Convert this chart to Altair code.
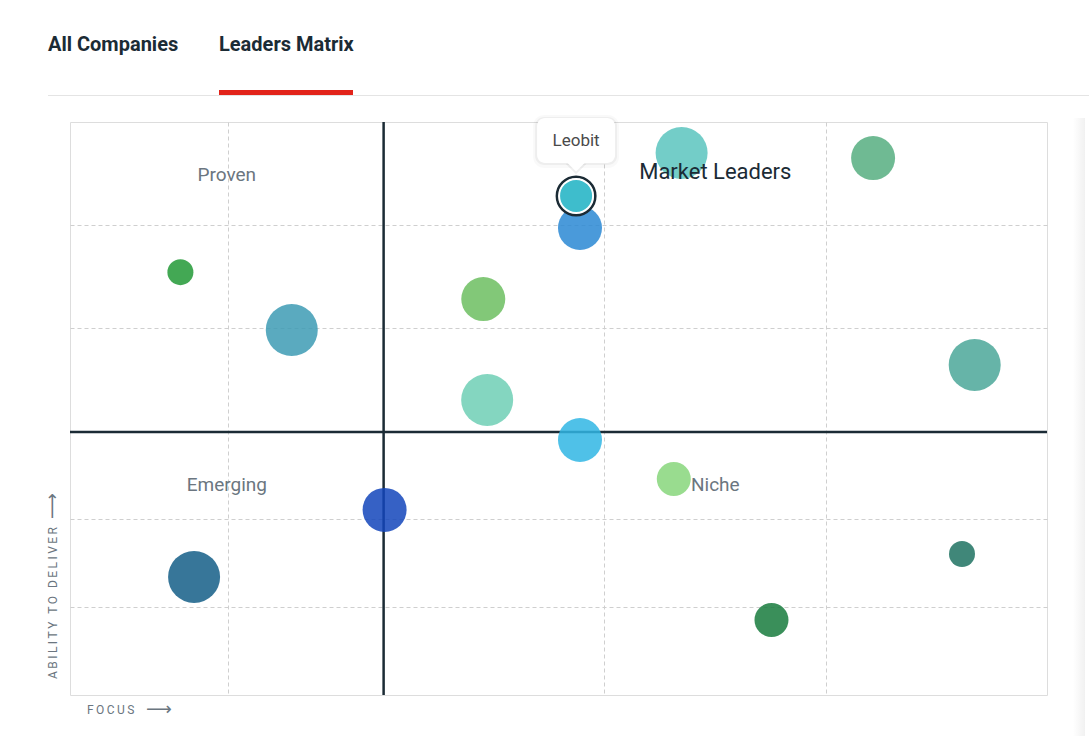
import altair as alt
import pandas as pd

# ---- matrix data (focus 0-100 on x, ability to deliver 0-100 on y) ----
focus   = [62.6, 82.2, 52.2, 11.3, 42.3, 22.7, 92.6, 42.7, 52.2, 61.8, 32.2, 12.7, 91.3, 71.8]
ability = [94.6, 93.7, 81.5, 73.8, 69.1, 63.7, 57.6, 51.5, 44.5, 37.7, 32.3, 20.6, 24.6, 13.1]
tier    = [4, 3, 3, 1, 3, 4, 4, 4, 3, 2, 3, 4, 1, 2]

# highlighted company
leobit_name = "Leobit"
leobit_focus = 51.8
leobit_ability = 87.1
leobit_tier = 2

# quadrant split and dashed guide positions
center_focus = 32.1
center_ability = 45.9
grid_focus = [16.2, 54.7, 77.4]
grid_ability = [15.4, 30.7, 64.0, 82.0]

quadrants = ["Proven", "Market Leaders", "Emerging", "Niche"]
tab_labels = ["All Companies", "Leaders Matrix"]

# ---- styles ----
bubble_colors = ["#5bc4be", "#56ae80", "#2a88d4", "#229936", "#6cbe60", "#3d9bb4",
                 "#4ba799", "#6ecfb5", "#30b6e4", "#87d67b", "#1345bb", "#145e87",
                 "#1f7261", "#187b3d"]
leobit_color = "#3ebdcc"
dark = "#1b2b35"
muted = "#6b7680"
# bubble radius (px) for each size tier; Vega symbol size = (2r)^2
tier_radius = {1: 13, 2: 17, 3: 22, 4: 26}

W, H = 977, 573

bubbles = pd.DataFrame({"focus": focus, "ability": ability, "tier": tier,
                        "fill": bubble_colors})
bubbles["area"] = bubbles["tier"].map(lambda t: (2 * tier_radius[t]) ** 2)
leobit = pd.DataFrame({"name": [leobit_name], "focus": [leobit_focus],
                       "ability": [leobit_ability], "tier": [leobit_tier]})
leobit["area"] = leobit["tier"].map(lambda t: (2 * tier_radius[t]) ** 2)

xs = alt.Scale(domain=[0, 100], nice=False, zero=False)
ys = alt.Scale(domain=[0, 100], nice=False, zero=False)
x_axis = alt.Axis(values=grid_focus, grid=True, labels=False, ticks=False,
                  domain=False, title=None, gridDash=[4, 3], gridColor="#cfcfcf")
y_axis = alt.Axis(values=grid_ability, grid=True, labels=False, ticks=False,
                  domain=False, title=None, gridDash=[4, 3], gridColor="#cfcfcf")
X = alt.X("focus:Q", scale=xs, axis=x_axis)
Y = alt.Y("ability:Q", scale=ys, axis=y_axis)
S = alt.Size("area:Q", scale=None, legend=None)

# quadrant divider lines
vline = alt.Chart(pd.DataFrame({"focus": [center_focus]})).mark_rule(
    color=dark, strokeWidth=2.5).encode(x=X)
hline = alt.Chart(pd.DataFrame({"ability": [center_ability]})).mark_rule(
    color=dark, strokeWidth=2.5).encode(y=Y)

# company bubbles
bubble_layer = alt.Chart(bubbles).mark_circle(opacity=0.85, stroke=None).encode(
    x=X, y=Y, size=S, color=alt.Color("fill:N", scale=None))

# highlighted company with ring
ring = alt.Chart(leobit).mark_point(filled=False, stroke=dark, strokeWidth=3,
                                    size=(2 * 19) ** 2, opacity=1, shape="circle").encode(x=X, y=Y)
leobit_dot = alt.Chart(leobit).mark_circle(fill=leobit_color, stroke="white",
                                           strokeWidth=2, opacity=1).encode(x=X, y=Y, size=S)

# tooltip bubble above the highlighted company
tip_shadow2 = alt.Chart(leobit).mark_rect(
    fill="black", opacity=0.025, cornerRadius=11,
    xOffset=-43, x2Offset=43, yOffset=-81, y2Offset=-28).encode(
    x=X, x2=alt.X2("focus"), y=Y, y2=alt.Y2("ability"))
tip_shadow = alt.Chart(leobit).mark_rect(
    fill="black", opacity=0.045, cornerRadius=9,
    xOffset=-41, x2Offset=41, yOffset=-79, y2Offset=-31).encode(
    x=X, x2=alt.X2("focus"), y=Y, y2=alt.Y2("ability"))
tip_box = alt.Chart(leobit).mark_rect(
    fill="white", cornerRadius=8,
    xOffset=-39, x2Offset=39, yOffset=-78, y2Offset=-33).encode(
    x=X, x2=alt.X2("focus"), y=Y, y2=alt.Y2("ability"))
tip_arrow_shadow = alt.Chart(leobit).mark_point(
    shape="M-1,-0.5L1,-0.5L0,0.5Z", filled=True, fill="black", opacity=0.06,
    size=440, strokeWidth=0, yOffset=-27).encode(x=X, y=Y)
tip_arrow = alt.Chart(leobit).mark_point(
    shape="M-1,-0.5L1,-0.5L0,0.5Z", filled=True, fill="white", opacity=1,
    size=324, strokeWidth=0, yOffset=-29).encode(x=X, y=Y)
tip_text = alt.Chart(leobit).mark_text(
    fontSize=17, color="#4a4a4a", dy=-55, align="center", baseline="middle").encode(
    x=X, y=Y, text="name:N")

# quadrant labels, centred in each quadrant near its top edge
mid_left = center_focus / 2
mid_right = (center_focus + 100) / 2
quad_df = pd.DataFrame({
    "label": quadrants,
    "focus": [mid_left, mid_right, mid_left, mid_right],
    "ability": [100, 100, center_ability, center_ability],
})
quad_gray = alt.Chart(quad_df[quad_df["label"] != "Market Leaders"]).mark_text(
    fontSize=19, color=muted, dy=53, baseline="middle").encode(x=X, y=Y, text="label:N")
quad_lead = alt.Chart(quad_df[quad_df["label"] == "Market Leaders"]).mark_text(
    fontSize=22, color=dark, dy=50, baseline="middle").encode(x=X, y=Y, text="label:N")

# page chrome: tabs, underline, divider
tabs = alt.Chart(pd.DataFrame({"t": tab_labels, "px": [-22, 149]})).mark_text(
    fontSize=20, fontWeight="bold", color=dark, align="left", baseline="middle").encode(
    x=alt.X("px:Q", scale=None), y=alt.value(-77), text="t:N")
divider = alt.Chart(pd.DataFrame({"a": [0]})).mark_rule(color="#e4e4e4", strokeWidth=1).encode(
    x=alt.value(-22), x2=alt.value(1019), y=alt.value(-26.5))
underline = alt.Chart(pd.DataFrame({"a": [0]})).mark_rect(color="#e2231a").encode(
    x=alt.value(149), x2=alt.value(283), y=alt.value(-32), y2=alt.value(-27))

# soft shadow of the side panel at the right edge
side_shadow = alt.Chart(pd.DataFrame({"a": [0]})).mark_rect(
    fill=alt.LinearGradient(gradient="linear", x1=0, x2=1, y1=0, y2=0,
                            stops=[alt.GradientStop(color="#ffffff", offset=0),
                                   alt.GradientStop(color="#f1f1f1", offset=1)])).encode(
    x=alt.value(1003), x2=alt.value(1015), y=alt.value(-4), y2=alt.value(620))

# axis captions with arrows
thin = "\u2009"
y_caption = alt.Chart(pd.DataFrame({"t": [thin.join("ABILITY TO DELIVER")]})).mark_text(
    fontSize=12, color=muted, angle=270, align="center", baseline="middle").encode(
    x=alt.value(-17), y=alt.value(481), text="t:N")
y_arrow = alt.Chart(pd.DataFrame({"t": ["\u27f6"]})).mark_text(
    fontSize=18, color=muted, angle=270, align="center", baseline="middle",
    font="DejaVu Sans").encode(x=alt.value(-17), y=alt.value(384), text="t:N")
x_caption = alt.Chart(pd.DataFrame({"t": [thin.join("FOCUS")]})).mark_text(
    fontSize=12, color=muted, align="left", baseline="middle").encode(
    x=alt.value(17), y=alt.value(588), text="t:N")
x_arrow = alt.Chart(pd.DataFrame({"t": ["\u27f6"]})).mark_text(
    fontSize=18, color=muted, align="center", baseline="middle",
    font="DejaVu Sans").encode(x=alt.value(89), y=alt.value(588), text="t:N")

chart = alt.layer(
    vline, hline, bubble_layer, ring, leobit_dot,
    tip_shadow2, tip_shadow, tip_arrow_shadow, tip_box, tip_arrow, tip_text,
    quad_gray, quad_lead,
    tabs, divider, underline, side_shadow,
    y_caption, y_arrow, x_caption, x_arrow,
).properties(
    width=W, height=H,
    autosize=alt.AutoSizeParams(type="none"),
    padding={"left": 70, "top": 122, "right": 42, "bottom": 41},
).configure_view(
    stroke="#d3d3d3", strokeWidth=1, cornerRadius=10
).configure(font="Roboto", background="white")

chart.save("out.html", embed_options={"renderer": "svg", "actions": False})
